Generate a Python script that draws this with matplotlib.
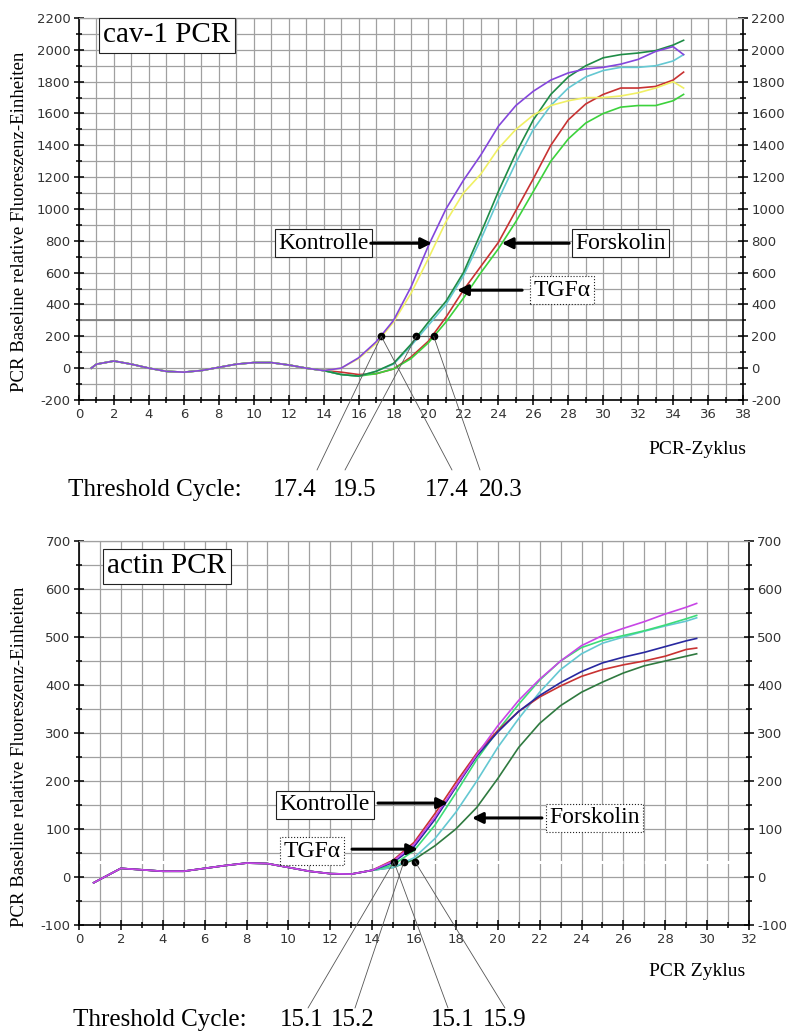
import numpy as np
import matplotlib
matplotlib.use("Agg")
import matplotlib.pyplot as plt

plt.rcParams['font.family'] = ['DejaVu Sans']
plt.rcParams['axes.unicode_minus'] = False
serif = ['Liberation Serif', 'DejaVu Serif']

# cav-1 PCR (oben)
cav_x = [0.7, 1, 2, 3, 4, 5, 6, 7, 8, 9, 10, 11, 12, 13, 14, 15, 16, 17, 18, 19, 20,
         21, 22, 23, 24, 25, 26, 27, 28, 29, 30, 31, 32, 33, 34, 34.6]
cav_base = [0, 25, 45, 25, 0, -20, -25, -15, 5, 25, 35, 35, 20, 0, -15]
cav_purple = cav_base + [0, 65, 165, 300, 510, 770, 1000, 1180, 1340, 1520, 1650, 1740, 1810,
                         1855, 1880, 1890, 1910, 1940, 1990, 2020, 1970]
cav_yellow = cav_base + [0, 60, 155, 290, 470, 690, 920, 1100, 1220, 1380, 1500, 1590, 1650,
                         1680, 1700, 1700, 1710, 1730, 1760, 1800, 1760]
cav_dkgreen = cav_base + [-40, -50, -20, 30, 150, 290, 420, 600, 850, 1110, 1350, 1560, 1720,
                          1830, 1900, 1950, 1970, 1980, 1995, 2030, 2060]
cav_cyan = cav_base + [-40, -50, -20, 25, 140, 270, 400, 580, 810, 1060, 1290, 1500, 1650,
                       1760, 1830, 1870, 1890, 1890, 1900, 1930, 1970]
cav_red = cav_base + [-25, -40, -35, -5, 70, 170, 320, 490, 640, 790, 990, 1190, 1400,
                      1560, 1660, 1720, 1760, 1760, 1770, 1810, 1860]
cav_green = cav_base + [-40, -50, -35, -5, 60, 160, 290, 440, 600, 750, 920, 1110, 1300,
                        1440, 1540, 1600, 1640, 1650, 1650, 1680, 1720]
cav_curves = [cav_red, cav_green, cav_cyan, cav_dkgreen, cav_yellow, cav_purple]
cav_colors = ['#c83232', '#3cd23c', '#64c8d2', '#1e8c46', '#f0f064', '#8446dc']
cav_thr = 200
cav_dots = [17.3, 19.3, 20.3]
cav_ct = ['17.4', '19.5', '17.4', '20.3']

# actin PCR (unten)
act_x = [0.7, 1, 2, 3, 4, 5, 6, 7, 8, 9, 10, 11, 12, 13, 14, 15, 16, 17, 18, 19, 20,
         21, 22, 23, 24, 25, 26, 27, 28, 29, 29.5]
act_base = [-12, -5, 18, 15, 12, 12, 18, 24, 29, 28, 20, 12, 7, 6, 14]
act_magenta = act_base + [33, 68, 125, 190, 255, 315, 368, 412, 450, 482, 503, 518, 532, 548, 562, 570]
act_red = act_base + [35, 72, 132, 197, 258, 305, 345, 375, 398, 418, 432, 442, 450, 460, 474, 477]
act_blue = act_base + [30, 63, 120, 187, 252, 302, 345, 378, 405, 428, 446, 458, 468, 480, 492, 497]
act_green = act_base + [25, 55, 108, 175, 245, 305, 360, 410, 450, 478, 493, 503, 513, 525, 538, 545]
act_cyan = act_base + [20, 40, 80, 135, 200, 270, 330, 385, 432, 465, 487, 500, 512, 523, 533, 540]
act_dkgreen = act_base + [20, 36, 65, 100, 145, 205, 270, 320, 357, 385, 406, 425, 440, 450, 460, 465]
act_curves = [act_dkgreen, act_cyan, act_green, act_red, act_blue, act_magenta]
act_colors = ['#2f7a40', '#64c8d2', '#3cdc78', '#c83232', '#2828a0', '#c846e6']
act_thr = 32
act_dots = [15.04, 15.52, 16.05]
act_ct = ['15.1', '15.2', '15.1', '15.9']

W, H = 787, 1035
fig = plt.figure(figsize=(W / 100, H / 100), dpi=100)


def px(x, y):
    return x / W, 1 - y / H


def setup(ax, xmax, ymin, ymax, ystep, yminor):
    ax.set_xlim(0, xmax)
    ax.set_ylim(ymin, ymax)
    ax.set_xticks(np.arange(0, xmax + 1, 2))
    ax.set_xticks(np.arange(0, xmax + 1, 1), minor=True)
    ax.set_yticks(np.arange(ymin, ymax + 1, ystep))
    ax.set_yticks(np.arange(ymin, ymax + 1, yminor), minor=True)
    ax.grid(which='both', color='#a0a0a0', lw=0.9)
    ax.set_axisbelow(True)
    for s in ['left', 'bottom', 'right']:
        ax.spines[s].set_color('black')
        ax.spines[s].set_linewidth(1.2)
    ax.spines['top'].set_color('#a0a0a0')
    ax.spines['top'].set_linewidth(0.9)
    ax.tick_params(which='both', direction='inout', right=True, labelright=True,
                   top=False, colors='black', labelcolor='#333333', labelsize=9.5)
    ax.tick_params(which='major', length=7, width=1.1, pad=2.5)
    ax.tick_params(which='minor', length=5, width=1.1)


def box(ax, x, y, s, dotted=False, size=17):
    ax.text(x, y, s, ha='center', va='center', fontsize=size, family=serif, zorder=6,
            bbox=dict(boxstyle='square,pad=0.15', fc='white', ec='#222222', lw=0.8,
                      ls=':' if dotted else '-'))


def arrow(ax, x0, x1, y):
    ax.annotate('', xy=(x1, y), xytext=(x0, y), zorder=6,
                arrowprops=dict(arrowstyle='-|>', lw=2.2, color='black',
                                mutation_scale=16, shrinkA=0, shrinkB=0))


def thresholds(ax, dots, thr, cts, label_y, label_x, line_ends, targets, txt_y, txt_x):
    ax.plot(dots, [thr] * len(dots), 'o', color='black', ms=4.5, zorder=7)
    fig.text(*px(txt_x, txt_y), 'Threshold Cycle:', fontsize=18, family=serif,
             ha='left', va='center')
    for s, lx in zip(cts, label_x):
        fig.text(*px(lx, label_y), s, fontsize=18, family=serif, ha='center', va='center')
    for (ex, ey), t in zip(line_ends, targets):
        ax.annotate('', xy=(dots[t], thr), xycoords='data',
                    xytext=(ex, H - ey), textcoords='figure pixels',
                    arrowprops=dict(arrowstyle='-', lw=0.6, color='#555555',
                                    shrinkA=0, shrinkB=0), zorder=7)


# ---- oben: cav-1
ax1 = fig.add_axes([79 / W, 1 - 400 / H, 664 / W, 382 / H])
setup(ax1, 38, -200, 2200, 200, 100)
ax1.axhline(300, color='#808080', lw=1.3, zorder=1.5)
ax1.plot([cav_dots[0], cav_dots[-1]], [cav_thr, cav_thr], color='#555555', lw=0.8, zorder=1.6)
for c, col in zip(cav_curves, cav_colors):
    ax1.plot(cav_x, c, color=col, lw=1.2, zorder=3)
box(ax1, 5.04, 2092, 'cav-1 PCR', size=21)
box(ax1, 14.0, 785, 'Kontrolle')
arrow(ax1, 16.7, 20.2, 785)
box(ax1, 31.0, 785, 'Forskolin')
arrow(ax1, 28.05, 24.2, 785)
box(ax1, 27.65, 490, 'TGFα', dotted=True)
arrow(ax1, 25.36, 21.64, 490)
fig.text(*px(697, 450), 'PCR-Zyklus', fontsize=14, family=serif, ha='center', va='center')
fig.text(*px(20, 222), 'PCR Baseline relative Fluoreszenz-Einheiten', rotation=90,
         fontsize=13.5, family=serif, ha='center', va='center')
thresholds(ax1, cav_dots, cav_thr, cav_ct, 490, [295, 355, 447, 501],
           [(317, 470), (345, 470), (452, 470), (480, 470)], [0, 1, 0, 2], 490, 68)

# ---- unten: actin
ax2 = fig.add_axes([79 / W, 1 - 925 / H, 670 / W, 384 / H])
setup(ax2, 32, -100, 700, 100, 50)
ax2.axhline(act_thr, color='white', lw=2.2, ls=(0, (3, 2)), zorder=1.5)
for c, col in zip(act_curves, act_colors):
    ax2.plot(act_x, c, color=col, lw=1.2, zorder=3)
box(ax2, 4.2, 647, 'actin PCR', size=21)
box(ax2, 11.75, 150, 'Kontrolle')
arrow(ax2, 14.28, 17.62, 154)
box(ax2, 11.13, 54, 'TGFα', dotted=True)
arrow(ax2, 13.04, 16.19, 58)
box(ax2, 24.62, 123, 'Forskolin', dotted=True)
arrow(ax2, 22.11, 18.77, 123)
fig.text(*px(697, 972), 'PCR Zyklus', fontsize=14, family=serif, ha='center', va='center')
fig.text(*px(20, 757), 'PCR Baseline relative Fluoreszenz-Einheiten', rotation=90,
         fontsize=13.5, family=serif, ha='center', va='center')
thresholds(ax2, act_dots, act_thr, act_ct, 1020, [302, 353, 453, 505],
           [(308, 1008), (355, 1008), (448, 1008), (505, 1008)], [0, 1, 0, 2], 1020, 73)

fig.savefig('out.png', dpi=100)
